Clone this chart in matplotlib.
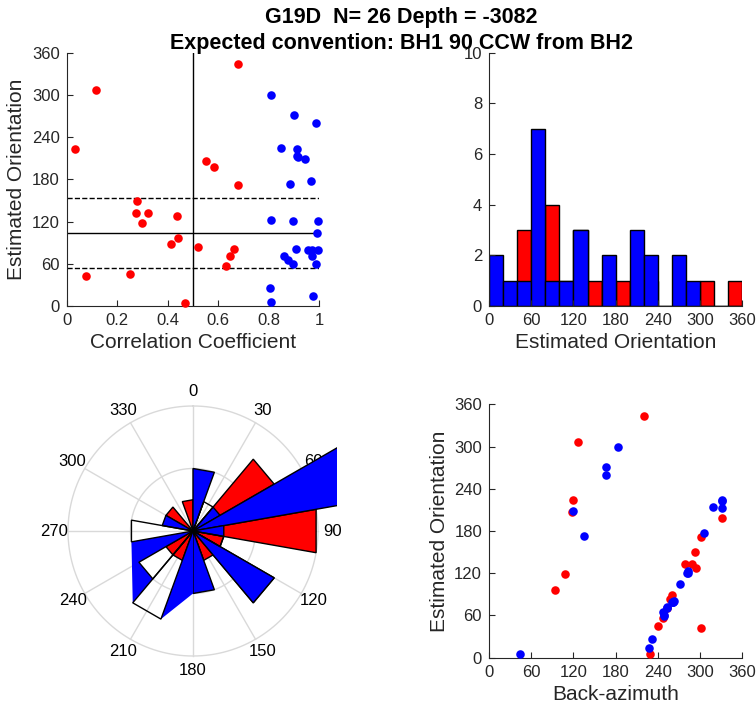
import numpy as np
import matplotlib
matplotlib.use("Agg")
import matplotlib.pyplot as plt
from matplotlib.path import Path
from matplotlib.patches import PathPatch

plt.rcParams['font.family'] = ['Liberation Sans', 'DejaVu Sans']

# red = weakly correlated events, blue = well correlated events
red_cc = [0.677, 0.117, 0.033, 0.553, 0.583, 0.679, 0.278, 0.273, 0.323, 0.437,
          0.298, 0.441, 0.414, 0.520, 0.662, 0.646, 0.629, 0.251, 0.075, 0.470]
red_orient = [344, 307, 223.5, 206.5, 198, 171.5, 149.7, 132.6, 132.6, 127.9,
              118.4, 96.2, 88.6, 83.8, 81, 71, 56.4, 45, 42.6, 4.7]
red_baz = [219.8, 126.5, 119.8, 117.5, 331.6, 301.3, 293.2, 278, 288.5, 293.7,
           108, 93.3, 260.5, 257.2, 262, 253, 247.7, 240.2, 301.7, 229.3]

blue_cc = [0.810, 0.898, 0.988, 0.847, 0.913, 0.913, 0.915, 0.943, 0.883, 0.967,
           0.810, 0.896, 0.993, 0.991, 0.909, 0.956, 0.972, 0.996, 0.860, 0.876,
           0.897, 0.972, 0.985, 0.805, 0.807, 0.976]
blue_orient = [299.9, 271, 260, 224.5, 223, 213.6, 212, 208.4, 173.4, 177.2,
               122.7, 120.8, 120.8, 104.2, 80.5, 79.1, 79.1, 79.1, 71.5, 65.4,
               59.2, 71, 60.2, 26, 5.7, 14.2]
blue_baz = [183.3, 165.8, 165.8, 331.1, 331, 317.9, 331.6, 119.8, 134.5, 305.5,
            282.8, 283, 282, 271, 262.4, 262, 261, 260.5, 253.4, 247.7,
            248.7, 253, 249, 232.1, 43.6, 227.4]

expected = 104      # expected orientation
tol = 50            # +/- band
cc_cut = 0.5

edges = np.arange(0, 361, 20)
red_n, _ = np.histogram(red_orient, edges)
blue_n, _ = np.histogram(blue_orient, edges)

# rose drawing quirks seen in the figure
hollow_bins = [20, 100, 200, 220, 260]
bridges = [(160, 200), (200, 260)]

dark = '#262626'
fs_tick = 12
fs_lab = 15

fig = plt.figure(figsize=(7.56, 7.08), dpi=100)


def style(ax):
    for s in ['top', 'right']:
        ax.spines[s].set_visible(False)
    for s in ['left', 'bottom']:
        ax.spines[s].set_color(dark)
        ax.spines[s].set_linewidth(0.8)
    ax.tick_params(direction='in', length=4, width=0.8, colors=dark,
                   labelsize=fs_tick, pad=5)


# ---- top left: orientation vs correlation
ax1 = fig.add_axes([66.7/756, 1-306/708, 252.6/756, 253.3/708])
ax1.axvline(cc_cut, color='k', lw=1)
ax1.axhline(expected, color='k', lw=1)
ax1.axhline(expected+tol, color='k', lw=1, ls='--')
ax1.axhline(expected-tol, color='k', lw=1, ls='--')
ax1.scatter(red_cc, red_orient, s=38, c='r', lw=0, clip_on=False, zorder=5)
ax1.scatter(blue_cc, blue_orient, s=38, c='b', lw=0, clip_on=False, zorder=5)
ax1.set_xlim(0, 1)
ax1.set_ylim(0, 360)
ax1.set_xticks([0, 0.2, 0.4, 0.6, 0.8, 1])
ax1.set_xticklabels(['0', '0.2', '0.4', '0.6', '0.8', '1'])
ax1.set_yticks(np.arange(0, 361, 60))
ax1.set_xlabel('Correlation Coefficient', fontsize=fs_lab, color=dark)
ax1.set_ylabel('Estimated Orientation', fontsize=fs_lab, color=dark)
style(ax1)

# ---- top right: histogram
ax2 = fig.add_axes([489/756, 1-306/708, 253.3/756, 253.3/708])
ax2.bar(edges[:-1], red_n, width=20, align='edge', color='r', edgecolor='k', lw=1)
ax2.bar(edges[:-1], blue_n, width=20, align='edge', color='b', edgecolor='k', lw=1)
ax2.set_xlim(0, 360)
ax2.set_ylim(0, 10)
ax2.set_xticks(np.arange(0, 361, 60))
ax2.set_yticks(np.arange(0, 11, 2))
ax2.set_xlabel('Estimated Orientation', fontsize=fs_lab, color=dark)
style(ax2)

# ---- bottom right: orientation vs back-azimuth
ax4 = fig.add_axes([489/756, 1-657.7/708, 253.3/756, 253.4/708])
ax4.scatter(red_baz, red_orient, s=38, c='r', lw=0, clip_on=False, zorder=5)
ax4.scatter(blue_baz, blue_orient, s=38, c='b', lw=0, clip_on=False, zorder=5)
ax4.set_xlim(0, 360)
ax4.set_ylim(0, 360)
ax4.set_xticks(np.arange(0, 361, 60))
ax4.set_yticks(np.arange(0, 361, 60))
ax4.set_xlabel('Back-azimuth', fontsize=fs_lab, color=dark)
ax4.set_ylabel('Estimated Orientation', fontsize=fs_lab, color=dark)
style(ax4)

# ---- bottom left: rose diagram (0 at top, clockwise)
rmax = 4
lim = 4.6
ax3 = fig.add_axes([49.25/756, 1-674.75/708, 287.5/756, 287.5/708])
ax3.set_xlim(-lim, lim)
ax3.set_ylim(-lim, lim)
ax3.set_aspect('equal')
ax3.axis('off')


def pt(a, r):
    t = np.radians(a)
    return (r*np.sin(t), r*np.cos(t))


grey = '#d9d9d9'
tt = np.linspace(0, 2*np.pi, 361)
for rr in [rmax/2, rmax]:
    ax3.plot(rr*np.sin(tt), rr*np.cos(tt), color=grey, lw=1, zorder=1)
for a in range(0, 360, 30):
    x, y = pt(a, rmax)
    ax3.plot([0, x], [0, y], color=grey, lw=1, zorder=1)
    lx, ly = pt(a, 4.45)
    ax3.text(lx, ly, str(a), ha='center', va='center', fontsize=fs_tick,
             color='k', zorder=1)


def wedge(a0, r):
    p0, p1 = pt(a0, r), pt(a0+20, r)
    return [0, p0[0], p1[0], 0], [0, p0[1], p1[1], 0]


for a0, n in zip(edges[:-1], red_n):
    if n > 0:
        xs, ys = wedge(a0, n)
        ax3.fill(xs, ys, facecolor='r', edgecolor='k', lw=1, zorder=2)

for a0, n in zip(edges[:-1], blue_n):
    if n > 0 and a0 not in hollow_bins:
        xs, ys = wedge(a0, n)
        ax3.fill(xs, ys, facecolor='b', edgecolor='k', lw=1, zorder=3)

nb = dict(zip(edges[:-1], blue_n))
for a_from, a_to in bridges:
    verts = [(0, 0), pt(a_from+20, nb[a_from]), pt(a_to, nb[a_to]), (0, 0)]
    codes = [Path.MOVETO, Path.LINETO, Path.LINETO, Path.CLOSEPOLY]
    for h in hollow_bins:
        if a_from+20 <= h and h+20 <= a_to and nb[h] > 0:
            verts += [(0, 0), pt(h+20, nb[h]), pt(h, nb[h]), (0, 0)]
            codes += [Path.MOVETO, Path.LINETO, Path.LINETO, Path.CLOSEPOLY]
    ax3.add_patch(PathPatch(Path(verts, codes), facecolor='b',
                            edgecolor='none', zorder=3))

for h in hollow_bins:
    if nb[h] > 0:
        xs, ys = wedge(h, nb[h])
        ax3.fill(xs, ys, facecolor='none', edgecolor='k', lw=1, zorder=4)

# ---- title
fig.text(401/756, 1-17/708, 'G19D  N= %d Depth = -3082' % len(blue_cc),
         ha='center', va='center', fontsize=15.5, fontweight='bold')
fig.text(401/756, 1-44/708, 'Expected convention: BH1 90 CCW from BH2',
         ha='center', va='center', fontsize=15.5, fontweight='bold')

fig.savefig('out.png', dpi=100)
